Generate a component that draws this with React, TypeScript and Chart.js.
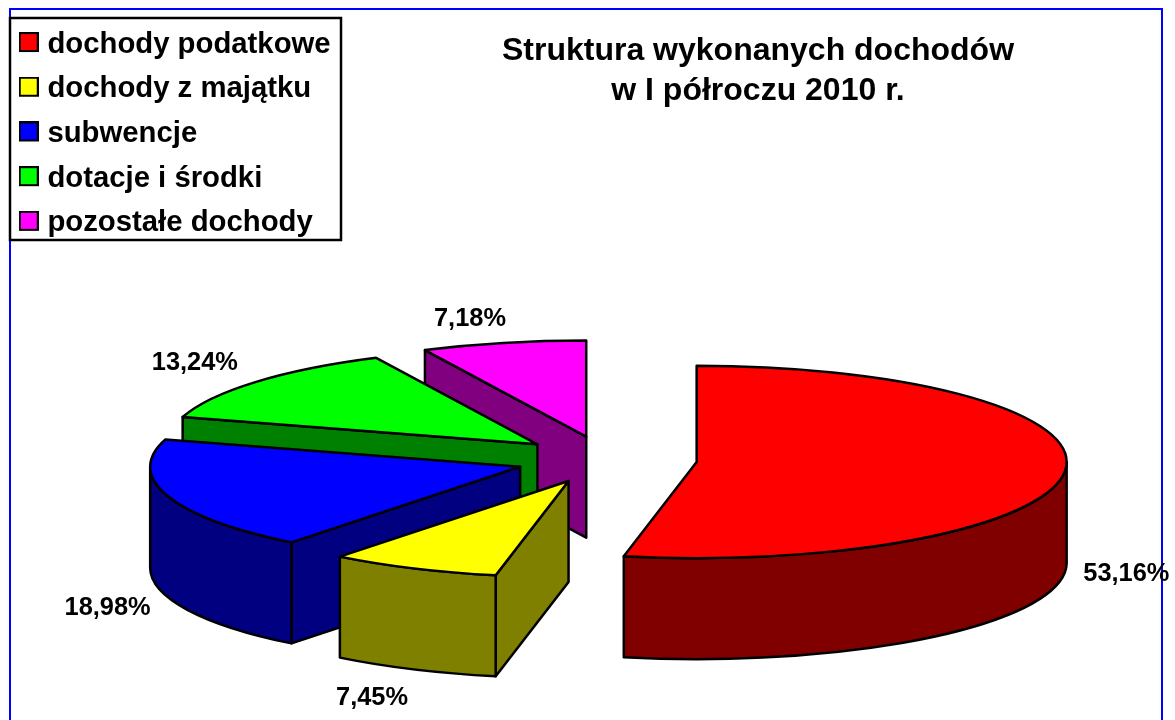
import React, { useEffect, useRef } from "react";
import { Chart, PieController, registerables } from "chart.js";

const categories = ["dochody podatkowe", "dochody z majątku", "subwencje", "dotacje i środki", "pozostałe dochody"];
const shares = [53.16, 7.45, 18.98, 13.24, 7.18];
const topColors = ["#ff0000", "#ffff00", "#0000ff", "#00ff00", "#ff00ff"];
const wallColors = ["#800000", "#808000", "#000080", "#008000", "#800080"];
const titleLines = ["Struktura wykonanych dochodów", "w I półroczu 2010 r."];

const FONT = "'Liberation Sans', Arial, sans-serif";
const RADIUS = 370;
const SQUASH = 0.26;
const DEPTH = 101;
const EXPLODE = 90.6;
const CENTER_X = 606.5;
const CENTER_Y = 459.6;
const TITLE_CENTER_X = 758;
// label offset from the slice's rim point, per slice
const labelNudges = [[61.5, 1.5], [-41.5, 29], [-60, 11], [-60.5, -19], [-33.5, -24]];

function apexOf(el: any) {
  const mid = (el.startAngle + el.endAngle) / 2;
  return {
    x: CENTER_X + Math.cos(mid) * EXPLODE,
    y: CENTER_Y + Math.sin(mid) * EXPLODE * SQUASH,
  };
}

function radialWall(ctx: any, a: any, r: number, angle: number, color: string) {
  const px = a.x + Math.cos(angle) * r;
  const py = a.y + Math.sin(angle) * r * SQUASH;
  ctx.beginPath();
  ctx.moveTo(a.x, a.y);
  ctx.lineTo(px, py);
  ctx.lineTo(px, py + DEPTH);
  ctx.lineTo(a.x, a.y + DEPTH);
  ctx.closePath();
  ctx.fillStyle = color;
  ctx.fill();
  ctx.stroke();
}

class Pie3DController extends PieController {
  static id = "pie3d";
  static defaults = PieController.defaults;
  static overrides = PieController.overrides;

  draw() {
    const ctx = this.chart.ctx;
    const area = this.chart.chartArea;
    const arcs: any[] = this._cachedMeta.data as any[];
    ctx.save();
    ctx.lineWidth = 2.5;
    ctx.strokeStyle = "#000";
    ctx.lineJoin = "round";
    for (let i = arcs.length - 1; i >= 0; i--) {
      const el = arcs[i];
      const a = apexOf(el);
      const r = el.outerRadius;
      const wall = wallColors[i];
      if (Math.cos(el.startAngle) < -1e-6) radialWall(ctx, a, r, el.startAngle, wall);
      if (Math.cos(el.endAngle) > 1e-6) radialWall(ctx, a, r, el.endAngle, wall);
      const from = Math.max(el.startAngle, 0);
      const to = Math.min(el.endAngle, Math.PI);
      if (to > from) {
        ctx.beginPath();
        ctx.ellipse(a.x, a.y, r, r * SQUASH, 0, from, to);
        ctx.ellipse(a.x, a.y + DEPTH, r, r * SQUASH, 0, to, from, true);
        ctx.closePath();
        ctx.fillStyle = wall;
        ctx.fill();
        ctx.stroke();
      }
      ctx.save();
      ctx.translate(a.x, a.y);
      ctx.scale(1, SQUASH);
      ctx.translate(-el.x, -el.y);
      el.draw(ctx, area);
      ctx.restore();
      ctx.beginPath();
      ctx.moveTo(a.x, a.y);
      ctx.ellipse(a.x, a.y, r, r * SQUASH, 0, el.startAngle, el.endAngle);
      ctx.closePath();
      ctx.stroke();
    }
    ctx.restore();
  }
}

Chart.register(...registerables, Pie3DController as any);

function swatch(color: string) {
  const c = document.createElement("canvas");
  c.width = 20;
  c.height = 25;
  const g = c.getContext("2d")!;
  g.fillStyle = color;
  g.fillRect(1, 1, 18, 18);
  g.strokeStyle = "#000";
  g.lineWidth = 2;
  g.strokeRect(1, 1, 18, 18);
  return c;
}

const framePlugin = {
  id: "frames",
  afterLayout(chart: any) {
    const half = (chart.titleBlock.right - chart.titleBlock.left) / 2;
    chart.titleBlock.left = TITLE_CENTER_X - half;
    chart.titleBlock.right = TITLE_CENTER_X + half;
  },
  beforeDraw(chart: any) {
    const ctx = chart.ctx;
    ctx.save();
    ctx.strokeStyle = "#0000ff";
    ctx.lineWidth = 2;
    ctx.strokeRect(10, 9, 1152, 730);
    ctx.fillStyle = "#fff";
    ctx.fillRect(10, 18, 331, 222);
    ctx.strokeStyle = "#000";
    ctx.lineWidth = 2.5;
    ctx.strokeRect(10, 18, 331, 222);
    ctx.restore();
  },
};

const labelPlugin = {
  id: "sliceLabels",
  afterDatasetsDraw(chart: any) {
    const ctx = chart.ctx;
    const arcs = chart.getDatasetMeta(0).data;
    ctx.save();
    ctx.font = `bold 25.4px ${FONT}`;
    ctx.fillStyle = "#000";
    ctx.textAlign = "center";
    ctx.textBaseline = "middle";
    arcs.forEach((el: any, i: number) => {
      const mid = (el.startAngle + el.endAngle) / 2;
      const a = apexOf(el);
      const sin = Math.sin(mid);
      const x = a.x + Math.cos(mid) * el.outerRadius + labelNudges[i][0];
      const y = a.y + sin * el.outerRadius * SQUASH + (sin > 0 ? DEPTH : 0) + labelNudges[i][1];
      ctx.fillText(shares[i].toFixed(2).replace(".", ",") + "%", x, y);
    });
    ctx.restore();
  },
};

export default function App() {
  const ref = useRef<HTMLCanvasElement>(null);
  useEffect(() => {
    const chart = new Chart(ref.current!, {
      type: "pie3d" as any,
      data: {
        labels: categories,
        datasets: [
          {
            data: shares,
            backgroundColor: topColors,
            borderWidth: 0,
            radius: RADIUS,
            clip: false,
          } as any,
        ],
      },
      options: {
        responsive: false,
        animation: false,
        layout: { padding: { left: 9.35, top: 14.5, right: 10, bottom: 0 } },
        plugins: {
          tooltip: { enabled: false },
          title: {
            display: true,
            text: titleLines,
            position: "top",
            fullSize: false,
            color: "#000",
            font: { family: FONT, size: 32, weight: "bold", lineHeight: 1.25 },
            padding: { top: 16.5, bottom: 0 },
          },
          legend: {
            display: true,
            position: "left",
            align: "start",
            labels: {
              color: "#000",
              font: { family: FONT, size: 29.3, weight: "bold" },
              padding: 15.4,
              usePointStyle: true,
              pointStyleWidth: 8,
              generateLabels: (c: any) =>
                (PieController as any).overrides.plugins.legend.labels
                  .generateLabels(c)
                  .map((item: any, i: number) => ({ ...item, pointStyle: swatch(topColors[i]) })),
            },
          },
        },
      } as any,
      plugins: [framePlugin, labelPlugin],
    });
    return () => chart.destroy();
  }, []);
  return <canvas ref={ref} width={1175} height={720} style={{ position: "absolute", left: 0, top: 0 }} />;
}
